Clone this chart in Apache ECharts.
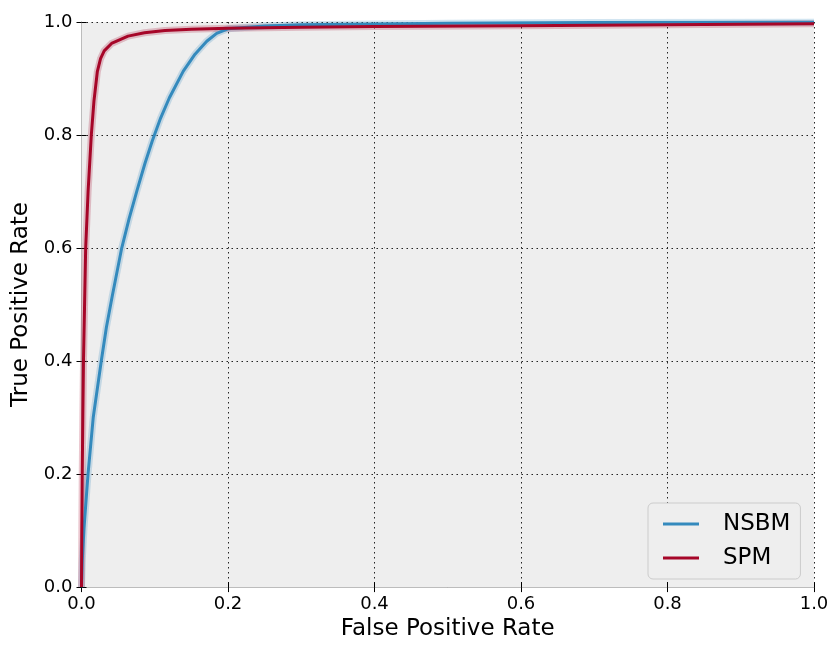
<!DOCTYPE html>
<html>
<head>
<meta charset="utf-8">
<script src="https://cdn.jsdelivr.net/npm/echarts@6/dist/echarts.min.js"></script>
<style>
html,body{margin:0;padding:0;background:#fff;}
#chart{width:833px;height:646px;}
</style>
</head>
<body>
<div id="chart"></div>
<script>
// ---- data ----
const xTicks = [0.0, 0.2, 0.4, 0.6, 0.8, 1.0];
const yTicks = [0.0, 0.2, 0.4, 0.6, 0.8, 1.0];
const seriesNames = ['NSBM', 'SPM'];

const nsbmFpr = [0, 0.001, 0.0034, 0.0089, 0.016, 0.027, 0.034, 0.042, 0.0549, 0.065, 0.076, 0.0867, 0.0967, 0.108, 0.12, 0.139, 0.155, 0.171, 0.1845, 0.2, 0.25, 0.3, 0.4, 0.5, 0.7, 1.0];
const nsbmTpr = [0, 0.046, 0.104, 0.2, 0.3, 0.4, 0.46, 0.515, 0.6, 0.652, 0.703, 0.75, 0.79, 0.83, 0.866, 0.913, 0.943, 0.966, 0.98, 0.988, 0.993, 0.995, 0.9965, 0.998, 0.999, 1.0];

const spmFpr = [0, 0.0002, 0.0004, 0.001, 0.0018, 0.0027, 0.0042, 0.0057, 0.009, 0.0134, 0.017, 0.0216, 0.026, 0.031, 0.041, 0.0635, 0.086, 0.114, 0.15, 0.2, 0.3, 0.4, 0.6, 0.8, 1.0];
const spmTpr = [0, 0.05, 0.1, 0.2, 0.3, 0.4, 0.5, 0.6, 0.7, 0.8, 0.86, 0.912, 0.935, 0.949, 0.962, 0.975, 0.981, 0.985, 0.987, 0.989, 0.9905, 0.992, 0.9935, 0.995, 0.997];

const colors = ['#348ABD', '#A60628'];

// ---- build ----
const pairs = (xs, ys) => xs.map((x, i) => [x, ys[i]]);
const nsbmData = pairs(nsbmFpr, nsbmTpr);
const spmData = pairs(spmFpr, spmTpr);

const font = 'DejaVu Sans';
const chart = echarts.init(document.getElementById('chart'), null, {renderer: 'canvas'});

const fmt = v => v.toFixed(1);
const gridLine = {show: true, lineStyle: {color: '#222', width: 1, type: [1.5, 3.5]}};

function band(name, data, color) {
  return {
    name: name + ' band', type: 'line', data: data, symbol: 'none', silent: true,
    smooth: false, z: 2,
    lineStyle: {color: color, width: 7, opacity: 0.22, join: 'round'}
  };
}
function main(name, data, color) {
  return {
    name: name, type: 'line', data: data, symbol: 'none',
    smooth: false, z: 3, color: color,
    lineStyle: {color: color, width: 3, join: 'round'}
  };
}

chart.setOption({
  animation: false,
  backgroundColor: '#ffffff',
  textStyle: {fontFamily: font},
  grid: {left: 81.5, right: 19, top: 22, bottom: 57, show: true, backgroundColor: '#eeeeee', borderWidth: 0},
  legend: {
    data: seriesNames,
    orient: 'vertical',
    left: 648, top: 503,
    padding: [8, 10, 8, 15],
    backgroundColor: '#eeeeee',
    borderColor: '#cccccc', borderWidth: 1, borderRadius: 5,
    icon: 'rect', itemWidth: 36, itemHeight: 3, itemGap: 8,
    textStyle: {fontFamily: font, fontSize: 23, color: '#000', lineHeight: 26, padding: [0, 0, 0, 19]}
  },
  xAxis: [{
    type: 'value', min: 0, max: 1, interval: 0.2, position: 'bottom',
    name: 'False Positive Rate', nameLocation: 'middle', nameGap: 30,
    nameTextStyle: {fontFamily: font, fontSize: 23, color: '#000'},
    axisLabel: {formatter: fmt, fontFamily: font, fontSize: 18, color: '#000', margin: 8},
    axisLine: {show: true, lineStyle: {color: '#bcbcbc', width: 1}},
    axisTick: {show: true, inside: true, length: 5, lineStyle: {color: '#000'}},
    splitLine: gridLine
  }, {
    type: 'value', min: 0, max: 1, interval: 0.2, position: 'top',
    axisLabel: {show: false},
    axisLine: {show: true, lineStyle: {color: '#bcbcbc', width: 1}},
    axisTick: {show: true, inside: true, length: 5, lineStyle: {color: '#000'}},
    splitLine: {show: false}
  }],
  yAxis: [{
    type: 'value', min: 0, max: 1, interval: 0.2, position: 'left',
    name: 'True Positive Rate', nameLocation: 'middle', nameGap: 42,
    nameTextStyle: {fontFamily: font, fontSize: 23, color: '#000'},
    axisLabel: {formatter: fmt, fontFamily: font, fontSize: 18, color: '#000', margin: 9},
    axisLine: {show: true, lineStyle: {color: '#bcbcbc', width: 1}},
    axisTick: {show: true, inside: true, length: 5, lineStyle: {color: '#000'}},
    splitLine: gridLine
  }, {
    type: 'value', min: 0, max: 1, interval: 0.2, position: 'right',
    axisLabel: {show: false},
    axisLine: {show: true, lineStyle: {color: '#bcbcbc', width: 1}},
    axisTick: {show: true, inside: true, length: 5, lineStyle: {color: '#000'}},
    splitLine: {show: false}
  }],
  series: [
    band(seriesNames[0], nsbmData, colors[0]),
    band(seriesNames[1], spmData, colors[1]),
    main(seriesNames[0], nsbmData, colors[0]),
    main(seriesNames[1], spmData, colors[1])
  ]
});
</script>
</body>
</html>
